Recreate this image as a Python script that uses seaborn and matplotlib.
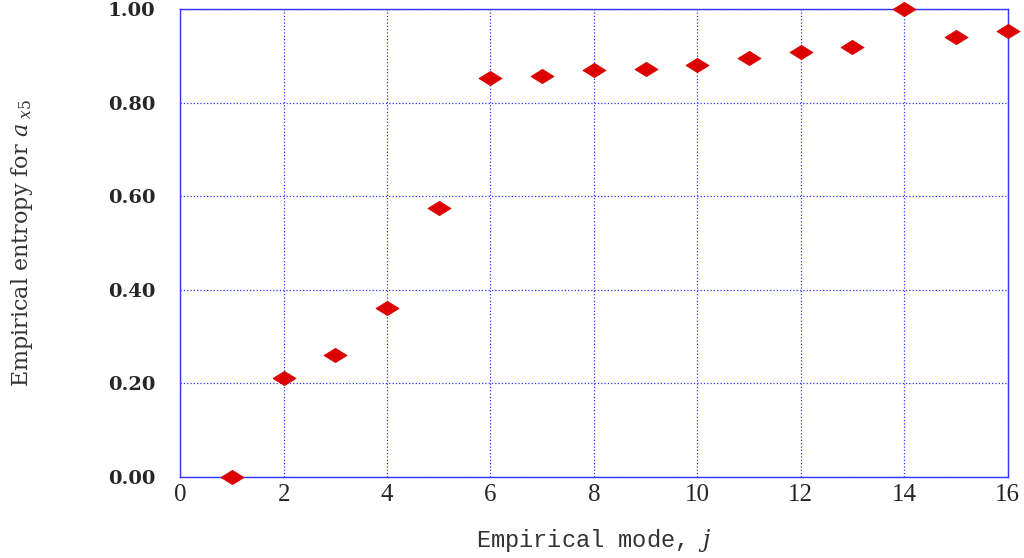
import numpy as np
import pandas as pd
import matplotlib
matplotlib.use("Agg")
import matplotlib.pyplot as plt
import seaborn as sns

# values
modes = [1, 2, 3, 4, 5, 6, 7, 8, 9, 10, 11, 12, 13, 14, 15, 16]
entropy = [0.000, 0.212, 0.261, 0.361, 0.575, 0.853, 0.857, 0.870,
           0.872, 0.880, 0.895, 0.908, 0.919, 1.000, 0.940, 0.953]
xticks = [0, 2, 4, 6, 8, 10, 12, 14, 16]
yticks = [0.0, 0.2, 0.4, 0.6, 0.8, 1.0]

df = pd.DataFrame({"mode": modes, "entropy": entropy})

sns.set_style("white")
plt.rcParams['font.family'] = ['Liberation Serif', 'DejaVu Serif']
plt.rcParams['mathtext.fontset'] = 'custom'
plt.rcParams['mathtext.it'] = 'DejaVu Serif:italic'
plt.rcParams['mathtext.rm'] = 'DejaVu Serif'

fig = plt.figure(figsize=(10.24, 5.58), dpi=100)
ax = fig.add_axes([0.176, 0.145, 0.808, 0.839])

# flat diamond marker
diamond = [(-1, 0), (0, 0.62), (1, 0), (0, -0.62), (-1, 0)]
sns.scatterplot(data=df, x="mode", y="entropy", marker=diamond, s=280,
                color="#dd0000", edgecolor="#dd0000", linewidth=0.5,
                clip_on=False, zorder=5, ax=ax)

ax.set_xlim(0, 16)
ax.set_ylim(0, 1.0)
ax.set_xticks(xticks)
ax.set_yticks(yticks)
ax.set_xticklabels([str(t) for t in xticks], fontsize=18)
ax.set_yticklabels([f"{t:.2f}" for t in yticks], fontsize=14, fontweight="bold",
                   family=["DejaVu Serif"])
ax.grid(True, color="#3333ff", linestyle=":", linewidth=0.9)
for sp in ax.spines.values():
    sp.set_color("#3333ff")
    sp.set_linewidth(1.0)
ax.tick_params(axis="both", direction="in", length=4, color="#3333ff")
ax.tick_params(axis="x", pad=5)
ax.tick_params(axis="y", pad=18)
ax.set_xticks(np.arange(0, 16.01, 0.2), minor=True)
ax.tick_params(axis="x", which="minor", direction="in", length=2, color="#3333ff")

ax.set_xlabel("Empirical mode, $\\it{j}$", fontsize=17,
              family=["Liberation Mono", "DejaVu Sans Mono"], labelpad=15,
              color="#333333")
ax.set_ylabel("Empirical entropy for $\\it{a}_{\\ x5}$", fontsize=16,
              family=["DejaVu Serif"], labelpad=52, color="#333333")

fig.savefig("out.png", dpi=100)
